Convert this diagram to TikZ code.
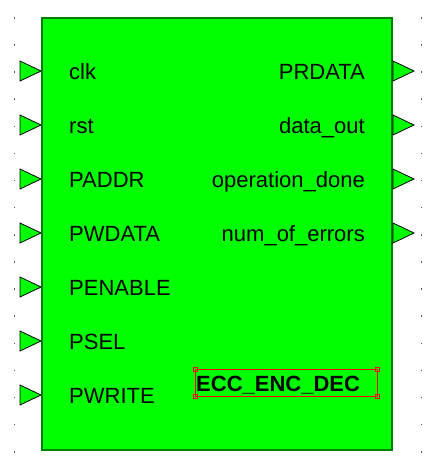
\documentclass[tikz,border=0pt]{standalone}
\usepackage{fontspec}
\setmainfont{Liberation Sans}
\definecolor{blockfill}{RGB}{0,255,0}
\definecolor{blockedge}{RGB}{0,128,0}
\definecolor{griddot}{RGB}{90,90,90}
\begin{document}
\begin{tikzpicture}[x=1pt, y=-1pt,
    portlabel/.style={inner sep=0pt, font=\fontsize{22}{26}\selectfont},
    porttri/.style={draw=black, line width=0.8pt, fill=blockfill, line join=miter},
    handle/.style={draw=red, line width=0.9pt}]
    \useasboundingbox (0,0) rectangle (434,472);

    % Grid dots
    \foreach \k in {0,...,16} {
        \fill[griddot] (13.5,17+27.125*\k) rectangle (15,18.5+27.125*\k);
        \fill[griddot] (420.5,17+27.125*\k) rectangle (422,18.5+27.125*\k);
    }

    % Block outline
    \draw[line width=2pt, draw=blockedge, fill=blockfill] (42,18) rectangle (392,450);

    % Input ports
    \draw[porttri] (20,61) -- (41,71) -- (20,81) -- cycle;
    \draw[porttri] (20,115) -- (41,125) -- (20,135) -- cycle;
    \draw[porttri] (20,169) -- (41,179) -- (20,189) -- cycle;
    \draw[porttri] (20,223) -- (41,233) -- (20,243) -- cycle;
    \draw[porttri] (20,277) -- (41,287) -- (20,297) -- cycle;
    \draw[porttri] (20,331) -- (41,341) -- (20,351) -- cycle;
    \draw[porttri] (20,385) -- (41,395) -- (20,405) -- cycle;

    % Output ports
    \draw[porttri] (393,61) -- (414,71) -- (393,81) -- cycle;
    \draw[porttri] (393,115) -- (414,125) -- (393,135) -- cycle;
    \draw[porttri] (393,169) -- (414,179) -- (393,189) -- cycle;
    \draw[porttri] (393,223) -- (414,233) -- (393,243) -- cycle;

    % Input names
    \node[portlabel, anchor=base west] (clk) at (69,79) {clk};
    \node[portlabel, anchor=base west] (rst) at (69,133) {rst};
    \node[portlabel, anchor=base west] (paddr) at (69,187) {PADDR};
    \node[portlabel, anchor=base west] (pwdata) at (69,241) {PWDATA};
    \node[portlabel, anchor=base west] (penable) at (69,295) {PENABLE};
    \node[portlabel, anchor=base west] (psel) at (69,349) {PSEL};
    \node[portlabel, anchor=base west] (pwrite) at (69,403) {PWRITE};

    % Output names
    \node[portlabel, anchor=base east] (prdata) at (365,79) {PRDATA};
    \node[portlabel, anchor=base east] (dataout) at (365,133) {data\_out};
    \node[portlabel, anchor=base east] (opdone) at (365,187) {operation\_done};
    \node[portlabel, anchor=base east] (numerr) at (365,241) {num\_of\_errors};

    % Block name with selection frame
    \draw[handle] (195,369.5) rectangle (377,396.5);
    \draw[handle] (193,367.5) rectangle (197,371.5);
    \draw[handle] (375,367.5) rectangle (379,371.5);
    \draw[handle] (193,394.5) rectangle (197,398.5);
    \draw[handle] (375,394.5) rectangle (379,398.5);
    \node[portlabel, font=\fontsize{22}{26}\selectfont\bfseries, anchor=base west] (blockname) at (196,391) {ECC\_ENC\_DEC};
\end{tikzpicture}
\end{document}
